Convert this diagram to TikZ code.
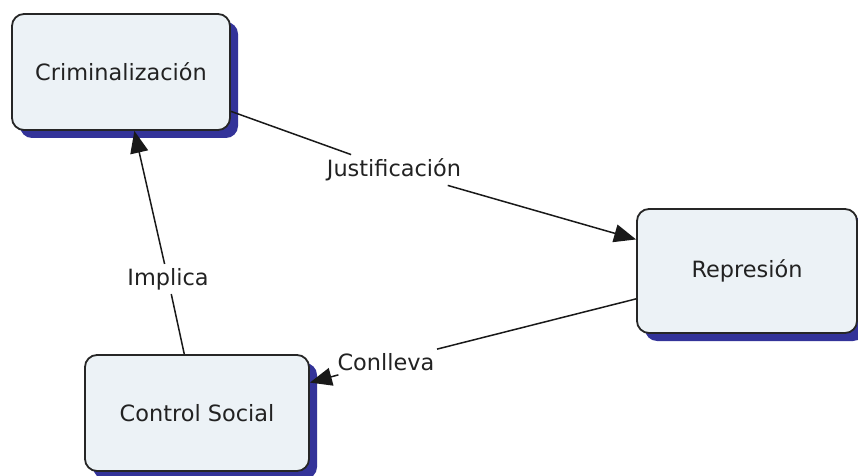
\documentclass[tikz,border=0pt]{standalone}
\usepackage{fontspec}
\setmainfont{DejaVu Sans}
\usetikzlibrary{arrows.meta,shadows}
\definecolor{boxfill}{RGB}{236,242,246}
\definecolor{shadowblue}{RGB}{51,51,153}
\definecolor{txt}{RGB}{34,34,34}
\begin{document}
\begin{tikzpicture}[x=1bp,y=-1bp,
  concept/.style={draw=black!85, line width=1.8bp, rounded corners=12bp, fill=boxfill,
    font=\fontsize{22.5}{27}\selectfont, text=txt, inner sep=0pt,
    general shadow={fill=shadowblue, shadow xshift=8bp, shadow yshift=-8bp}},
  linklabel/.style={font=\fontsize{22.5}{27}\selectfont, text=txt, inner sep=4bp},
  conn/.style={line width=1.5bp, draw=black!90},
  arr/.style={conn, -{Triangle[length=22bp,width=18bp]}}]
\useasboundingbox (0,0) rectangle (858,476);
\node[concept, minimum width=218bp, minimum height=116bp] (crim) at (121,72) {Criminalización};
\node[concept, minimum width=220bp, minimum height=124bp] (rep) at (747,271) {Represión};
\node[concept, minimum width=224bp, minimum height=116bp] (cs) at (197,413) {Control Social};
\node[linklabel] (just) at (394,170) {Justificación};
\node[linklabel] (conl) at (386,362) {Conlleva};
\node[linklabel] (impl) at (168,279) {Implica};
\draw[conn] (crim) -- (just);
\draw[arr] (just) -- (rep);
\draw[conn] (rep) -- (conl);
\draw[arr] (conl) -- (cs);
\draw[conn] (cs) -- (impl);
\draw[arr] (impl) -- (crim);
\end{tikzpicture}
\end{document}
